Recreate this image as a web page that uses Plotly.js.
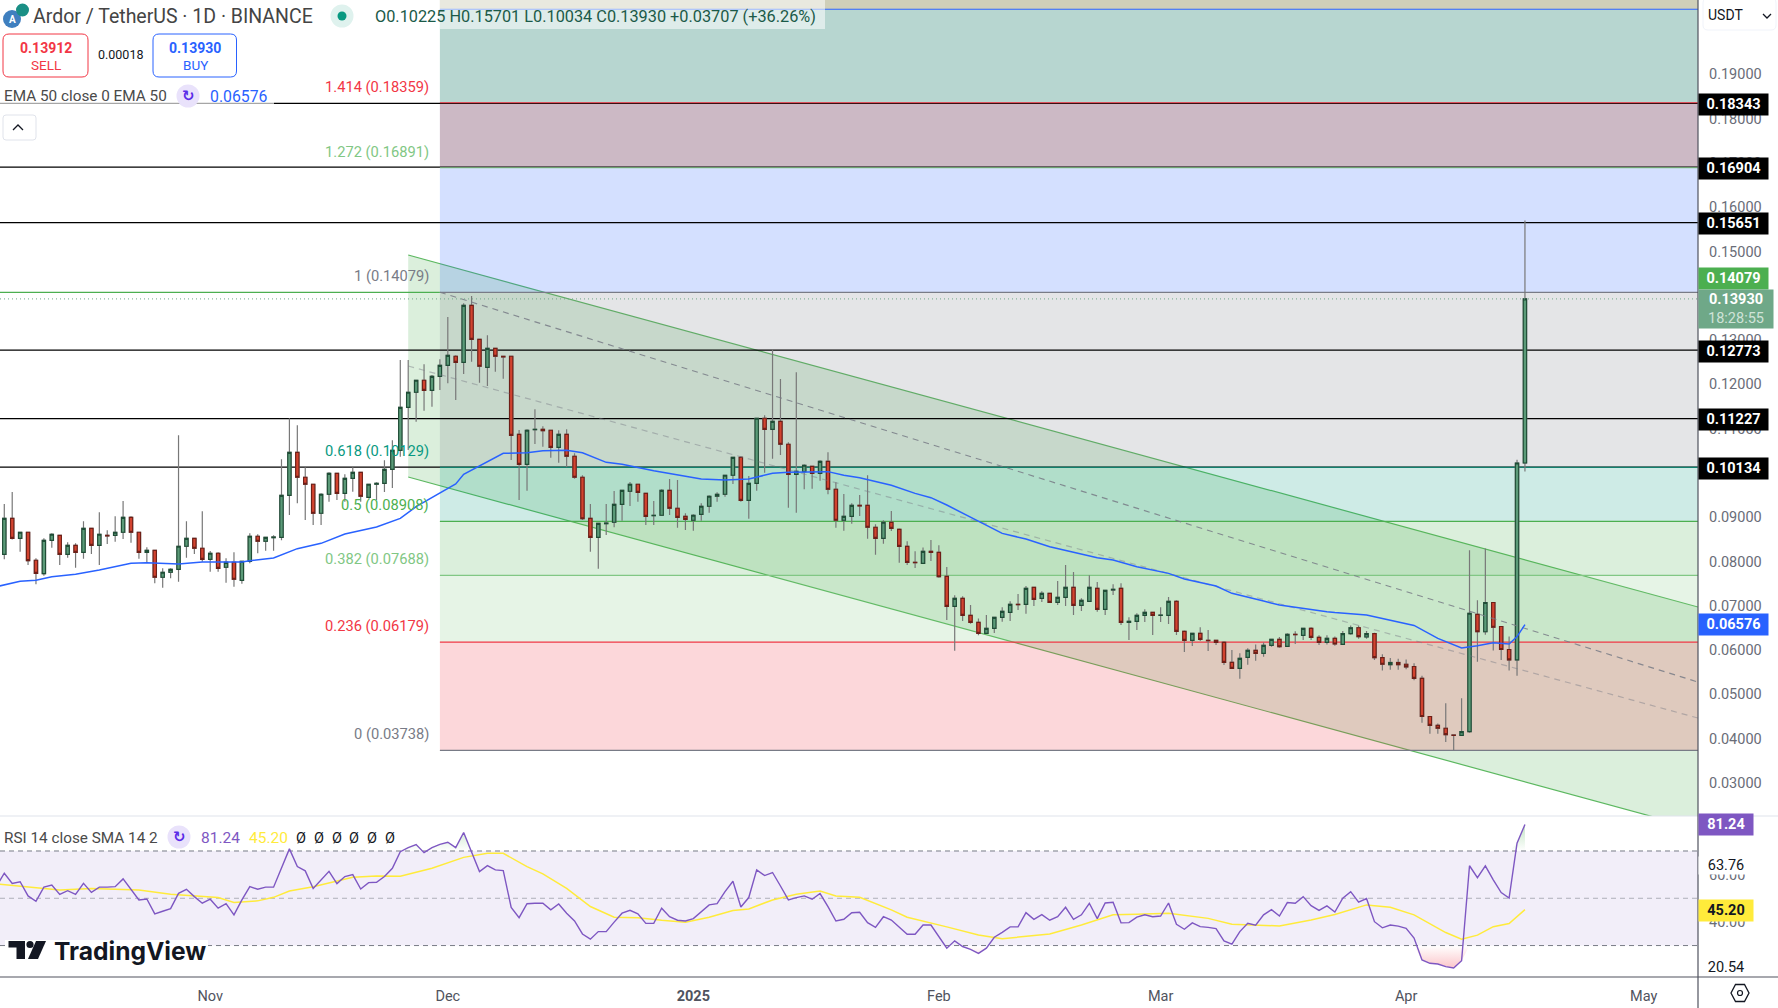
<!DOCTYPE html>
<html><head><meta charset="utf-8">
<script src="https://cdn.plot.ly/plotly-3.0.1.min.js"></script>
<style>html,body{margin:0;padding:0;background:#fff;overflow:hidden}#c{width:1778px;height:1008px}</style>
</head><body><div id="c"></div>
<script>
const firstDate = '2024-10-06';
const opens = [
.08163,.08976,.08524,.0866,.08028,.07727,.08479,.08592,.08163,.08366,
.08208,.0875,.08366,.08592,.08592,.0866,.08998,.0866,.08208,.08253,
.07644,.07757,.07824,.08344,.08524,.08299,.0805,.08186,.0787,.07982,
.07576,.08005,.0857,.08457,.08539,.08547,.09495,.10466,.09902,.09744,
.09089,.09518,.09992,.0954,.09879,.10014,.0945,.09744,.09766,.10082,
.10511,.11482,.11821,.12092,.11866,.12182,.1243,.12634,.12498,.13785,
.13017,.12385,.12814,.12634,.12634,.10872,.10195,.10978,.10985,.10963,
.10579,.10872,.10376,.09902,.08976,.08547,.08856,.08886,.09292,.09586,
.09744,.0954,.09036,.09044,.09608,.09202,.09021,.08931,.09066,.09247,
.09473,.09518,.09947,.10353,.09382,.09766,.11234,.10985,.11166,.10647,
.09969,.1003,.1015,.09992,.10263,.09631,.08931,.09021,.09269,.09269,
.08773,.08524,.08885,.08727,.08343,.07982,.07959,.0823,.08208,.07666,
.06988,.07169,.06785,.06627,.06379,.06492,.0674,.06853,.07033,.07033,
.07417,.07169,.07282,.07079,.07192,.07417,.07011,.07101,.07395,.06921,
.07357,.07395,.06627,.0665,.06785,.06853,.06785,.06785,.07101,.06424,
.06221,.06379,.06221,.06221,.06175,.05724,.05588,.05837,.05995,.05927,
.06108,.06243,.06085,.06356,.06334,.06492,.06288,.06175,.06265,.06131,
.06373,.06507,.06298,.06373,.0583,.05672,.05722,.0568,.0563,.05363,
.04502,.04302,.04235,.04085,.04076,.0416,.06808,.06415,.07075,.06532,
.06014,.0578,.10225];
const highs = [
.09299,.0957,.0866,.0866,.08073,.08524,.08637,.086,.08434,.08411,
.08908,.0875,.09111,.08705,.09021,.09367,.09021,.0866,.08321,.08253,
.07847,.07847,.1085,.08908,.08524,.09134,.08238,.08208,.08073,.08208,
.08005,.08637,.08615,.08547,.08592,.10308,.11234,.11076,.10127,.09744,
.0954,.10014,.09992,.09969,.10127,.10014,.09744,.09789,.10285,.10737,
.12551,.12551,.12099,.12453,.12212,.12566,.13522,.12656,.1383,.13996,
.13017,.13108,.12814,.12634,.12634,.1097,.10985,.11437,.11053,.10963,
.10963,.10985,.10443,.09947,.09299,.08863,.09299,.09593,.09616,.09796,
.09744,.0954,.09367,.09631,.09864,.09841,.09089,.09066,.09315,.09495,
.09563,.09947,.10368,.10376,.09932,.11234,.11301,.12792,.12122,.10692,
.12272,.10195,.1015,.10285,.10466,.09789,.09525,.09315,.09503,.09947,
.0884,.08931,.09141,.08749,.08456,.0823,.0832,.08486,.08366,.07876,
.07237,.07214,.07018,.06717,.06793,.0674,.06966,.07101,.07267,.07447,
.07417,.07327,.07282,.0756,.07922,.07763,.07169,.07688,.07538,.0735,
.07485,.07508,.0674,.0683,.06921,.06853,.06966,.07199,.07124,.06446,
.06379,.06514,.06454,.06228,.06198,.06002,.05927,.0604,.0613,.06175,
.06243,.06296,.06379,.06424,.06492,.06514,.06334,.06334,.06306,.06432,
.06557,.06557,.06432,.0639,.05905,.05822,.05805,.05789,.05705,.05421,
.04502,.04343,.04803,.04093,.04912,.08253,.07125,.08294,.07075,.0654,
.06306,.10299,.15701];
const lows = [
.0805,.085,.08223,.07922,.07486,.07681,.08314,.07922,.08088,.07862,
.08065,.08171,.07922,.08396,.08449,.08509,.08427,.08065,.07982,.07508,
.07411,.07621,.07546,.08088,.08171,.07998,.07772,.07772,.07523,.07433,
.07501,.0796,.08186,.08246,.08246,.08479,.09051,.09315,.08938,.08825,
.08825,.09352,.0939,.09352,.09578,.09352,.09427,.0939,.0957,.09661,
.10368,.10519,.11158,.11407,.11497,.11873,.12024,.11648,.12235,.12513,
.12039,.11964,.12287,.12129,.10293,.0939,.09601,.10654,.10594,.10346,
.10233,.10127,.09872,.08938,.08223,.07839,.086,.08773,.08923,.09254,
.09352,.08825,.08825,.09029,.09051,.08765,.08712,.08697,.08923,.09104,
.09352,.09465,.09751,.09352,.08968,.09601,.10007,.10323,.10406,.09217,
.09104,.09631,.09646,.09826,.09518,.08765,.08697,.08856,.09029,.08517,
.08156,.08404,.08689,.07974,.07922,.07854,.07944,.08012,.07636,.0668,
.05987,.06657,.06597,.06334,.0637,.06386,.06642,.06657,.06906,.06823,
.06996,.07086,.07071,.07018,.06996,.06793,.06883,.07086,.06868,.06793,
.07244,.06567,.06228,.06454,.06635,.06341,.06635,.06589,.06341,.05957,
.06093,.06206,.0598,.06115,.05664,.05581,.05355,.05671,.05762,.05852,
.06078,.06055,.0607,.06138,.06228,.06228,.06115,.0613,.06098,.06114,
.06348,.06256,.06256,.0578,.05538,.05555,.05555,.05571,.05321,.0436,
.0411,.0411,.03926,.03738,.04068,.04135,.05738,.06348,.05989,.0578,
.05538,.05421,.10034];
const closes = [
.08976,.08524,.0866,.0802,.07734,.08479,.08615,.08163,.08366,.08208,
.0875,.08366,.08615,.08577,.0866,.08998,.0866,.08208,.08253,.07644,
.07757,.07824,.08344,.08524,.08299,.0805,.08186,.07847,.07982,.07599,
.08005,.0857,.08457,.08547,.08555,.09495,.10466,.09902,.09744,.09089,
.09518,.09992,.0954,.09879,.10014,.09473,.09744,.09766,.10082,.10511,
.11482,.11821,.12092,.11866,.12182,.1243,.12656,.12498,.13785,.13017,
.12408,.12814,.12634,.12618,.1085,.10195,.10963,.10985,.10955,.10579,
.10872,.10376,.09902,.08968,.08547,.08863,.0887,.09292,.09608,.09744,
.09563,.09021,.09044,.09608,.09202,.08998,.08953,.09044,.09247,.09473,
.09518,.09947,.10353,.09382,.09766,.11234,.10985,.11166,.10647,.09969,
.10037,.10173,.09992,.10263,.09631,.08931,.09021,.09269,.09254,.08773,
.08524,.08886,.08749,.08343,.07982,.07974,.0823,.08208,.07658,.06988,
.07169,.06785,.06627,.06379,.06492,.0674,.06875,.07033,.07026,.07395,
.07146,.07282,.07079,.07192,.07417,.07011,.07124,.07417,.06921,.0735,
.07372,.06627,.0665,.06785,.06853,.06785,.06793,.07101,.06424,.06221,
.06379,.06243,.06213,.06175,.05724,.05588,.05814,.05995,.05927,.06108,
.06243,.06078,.06356,.06349,.06492,.06288,.06175,.06266,.06139,.06373,
.06507,.06306,.06373,.0583,.0568,.05722,.05672,.05622,.05363,.04502,
.04302,.04235,.04093,.04076,.0416,.06833,.06415,.07075,.06515,.06014,
.0578,.10225,.1393];

const emaDays = [-1,2,4,6,9,12,16,18,22,25,30,31,34,37,40,43,47,50,52,55,57,58,61,63,66,68,71,73,76,78,82,85,88,91,94,97,99,104,106,108,112,115,117,119,123,126,129,132,135,138,140,143,147,149,153,155,159,161,167,168,172,178,181,184,186,188,190,191,192];
const emaValues = [.07433,.07553,.07576,.07659,.07712,.07809,.0796,.07975,.07945,.0799,.0799,.0802,.0808,.08291,.08411,.08622,.0878,.08976,.09239,.0954,.09751,.09969,.10255,.10443,.10458,.10504,.10511,.10458,.1024,.10195,.10052,.09962,.09864,.09841,.09864,.09992,.10014,.1003,.09947,.09894,.09721,.0954,.09442,.09276,.08915,.08636,.08509,.08335,.08208,.08087,.08034,.07884,.07733,.07605,.07447,.07282,.07109,.07018,.06868,.06849,.06791,.06557,.06265,.06048,.06098,.06164,.06139,.06306,.06576];

const rsiLeadValue = 55.0;
const rsiValues = [
60.6,56.3,57.0,51.0,48.7,54.7,55.6,51.6,53.2,51.6,
56.3,52.5,54.7,54.7,54.9,58.2,53.8,49.3,49.7,43.4,
44.5,45.6,52.1,53.8,50.7,47.9,49.6,45.8,47.7,43.0,
49.3,54.9,53.8,54.7,54.7,62.7,70.9,63.4,61.6,54.1,
57.8,61.4,56.2,59.2,60.0,53.9,56.6,56.8,59.2,62.7,
69.7,71.4,72.7,69.3,71.4,72.8,73.7,71.4,77.8,69.7,
61.3,63.8,62.0,61.7,46.1,41.8,47.7,47.9,47.9,45.1,
47.6,43.7,40.4,34.9,32.7,35.9,35.9,39.9,43.7,44.9,
43.4,39.4,39.4,45.8,42.2,40.7,40.4,41.4,44.4,47.2,
47.7,52.8,57.2,46.3,50.3,62.0,59.6,60.9,55.2,49.3,
50.3,51.0,49.6,52.0,46.5,40.4,41.1,43.9,44.1,39.7,
37.7,42.2,40.8,37.7,34.8,34.8,38.7,38.7,33.8,28.9,
32.0,29.6,28.4,26.7,28.9,33.5,35.6,37.9,37.9,43.9,
41.1,43.1,40.7,42.2,46.2,41.1,43.0,47.9,41.4,48.0,
48.3,39.6,39.7,42.0,43.0,42.2,42.5,48.0,39.0,36.9,
39.6,38.0,37.7,37.2,32.0,30.6,35.9,39.4,38.6,43.0,
45.2,42.5,48.2,47.9,50.7,46.9,44.9,46.8,44.2,50.0,
52.8,48.4,49.9,40.1,37.5,38.7,38.2,37.3,33.2,23.9,
22.5,22.2,21.1,20.54,23.6,63.76,58.7,63.7,57.8,52.4,
50.1,73.3,81.24];
const smaDays = [-1,2,4,7,11,17,21,24,27,29,32,34,36,39,44,47,50,54,58,61,63,66,68,71,74,77,80,83,86,89,92,94,97,100,103,105,108,112,114,119,123,126,129,132,136,140,143,147,152,155,161,165,168,172,175,178,182,184,186,188,190,192];
const smaValues = [56.1,55.2,54.5,53.5,54.1,53.5,51.7,51.0,50.3,48.2,48.9,50.4,53.1,54.9,58.9,59.4,59.3,62.7,67.3,69.0,69.0,63.4,60.3,54.2,46.5,42.0,41.8,40.7,39.9,42.0,44.8,45.5,49.3,51.7,53.1,51.0,50.4,45.1,42.0,37.9,34.5,32.9,33.8,34.9,38.7,43.0,43.2,43.7,41.5,39.0,38.3,40.8,43.1,47.2,46.2,43.0,35.5,32.7,34.4,38.0,39.3,45.2];

const fibRatios = [0,0.236,0.382,0.5,0.618,1,1.272,1.414,1.618];
const fibPrices = [.03738,.06179,.07688,.08908,.10129,.14079,.16891,.18359,.2047];
const fibLabels = ['0 (0.03738)','0.236 (0.06179)','0.382 (0.07688)','0.5 (0.08908)','0.618 (0.10129)','1 (0.14079)','1.272 (0.16891)','1.414 (0.18359)'];
const blackLevels = [.18343,.16904,.15651,.12773,.11227,.10134];
const channelDates = ['2024-11-26','2025-05-07 20:24'];
const channelUpper = [.14921,.06973];
const channelLower = [.09909,.01961];
const channelMid = [.12415,.04467];
const regressionDates = ['2024-11-30','2025-05-07 20:24'];
const regressionLine = [.14079,.0528];
const xTickDates = ['2024-11-01','2024-12-01','2025-01-01','2025-02-01','2025-03-01','2025-04-01','2025-05-01'];
const xTickText = ['Nov','Dec','<b>2025</b>','Feb','Mar','Apr','May'];
const priceTicks = [.03,.04,.05,.06,.07,.08,.09,.1,.11,.12,.13,.14,.15,.16,.17,.18,.19];
const rsiLevels = [70,50,30];

/* styles */
const W=1778,H=1008,PW=1698,PH=977,PANE=816;
const px=x=>x/PW, py=y=>1-y/PH;
const xStart='2024-10-05 11:00', xEnd='2025-05-07 20:24', fibStart='2024-11-30';
const fibFills=['rgba(242,54,69,.2)','rgba(129,199,132,.2)','rgba(76,175,80,.2)','rgba(8,153,129,.2)','rgba(120,123,134,.2)','rgba(41,98,255,.2)','#ccb9c5','#b7d6d0','#cfcfb9'];
const fibLines=['#787b86','#f23645','#81c784','#4caf50','#089981','#787b86','#81c784','#f23645','#2962ff'];
const fibText=['#787b86','#f23645','#81c784','#4caf50','#089981','#787b86','#81c784','#f23645'];
const F='Roboto, sans-serif';

const dayDate=i=>{const d=new Date(firstDate+'T00:00:00Z');d.setUTCDate(d.getUTCDate()+i);return d.toISOString().slice(0,10);};
const dates=opens.map((_,i)=>dayDate(i));
const us=s=>s.replace(' ','_');

const shapes=[];
// trend channel sits under the fib bands
shapes.push({type:'path',layer:'below',xref:'x',yref:'y',fillcolor:'rgba(76,175,80,.2)',line:{width:0},
  path:`M${us(channelDates[0])},${channelUpper[0]}L${us(channelDates[1])},${channelUpper[1]}L${us(channelDates[1])},${channelLower[1]}L${us(channelDates[0])},${channelLower[0]}Z`});
[channelUpper,channelLower].forEach(a=>shapes.push({type:'line',layer:'below',xref:'x',yref:'y',x0:channelDates[0],x1:channelDates[1],y0:a[0],y1:a[1],line:{color:'#5cb860',width:1.2}}));
// fib bands
fibPrices.forEach((p,i)=>{
  const top=i<fibPrices.length-1?fibPrices[i+1]:0.20679;
  shapes.push({type:'rect',layer:'below',xref:'x',yref:'y',x0:fibStart,x1:xEnd,y0:p,y1:top,fillcolor:fibFills[i],line:{width:0}});
});
// black levels
blackLevels.forEach(p=>shapes.push({type:'line',layer:'below',xref:'x',yref:'y',x0:xStart,x1:xEnd,y0:p,y1:p,line:{color:'#000',width:1.3}}));
// green & dotted price lines
shapes.push({type:'line',layer:'below',xref:'x',yref:'y',x0:xStart,x1:fibStart,y0:fibPrices[5],y1:fibPrices[5],line:{color:'#4caf50',width:1.2}});
shapes.push({type:'line',layer:'above',xref:'x',yref:'y',x0:xStart,x1:xEnd,y0:closes[closes.length-1],y1:closes[closes.length-1],line:{color:'#6fa888',width:1,dash:'1px,3px'}});
// fib lines
fibPrices.forEach((p,i)=>shapes.push({type:'line',layer:'below',xref:'x',yref:'y',x0:fibStart,x1:xEnd,y0:p,y1:p,line:{color:fibLines[i],width:1.2}}));
// RSI band
shapes.push({type:'rect',layer:'below',xref:'paper',yref:'y2',x0:0,x1:1,y0:30,y1:70,fillcolor:'rgba(126,87,194,0.1)',line:{width:0}});
rsiLevels.forEach((v,i)=>shapes.push({type:'line',layer:'below',xref:'paper',yref:'y2',x0:0,x1:1,y0:v,y1:v,line:{color:i===1?'rgba(120,123,134,.55)':'#787b86',width:1,dash:'5px,4px'}}));
// panes/axis frame
shapes.push({type:'line',layer:'above',xref:'paper',yref:'paper',x0:px(0),x1:px(W),y0:py(PANE),y1:py(PANE),line:{color:'#e0e3eb',width:1.2}});
shapes.push({type:'line',layer:'above',xref:'paper',yref:'paper',x0:px(0),x1:px(W),y0:py(PH),y1:py(PH),line:{color:'#50535e',width:1.2}});
shapes.push({type:'line',layer:'above',xref:'paper',yref:'paper',x0:1,x1:1,y0:py(0),y1:py(H),line:{color:'#50535e',width:1.2}});
const rect=(x0,y0,x1,y1,fill,line,lw)=>shapes.push({type:'rect',layer:'above',xref:'paper',yref:'paper',x0:px(x0),x1:px(x1),y0:py(y0),y1:py(y1),fillcolor:fill,line:{color:line||'rgba(0,0,0,0)',width:line?(lw||1):0}});
const round=(x0,y0,x1,y1,r,fill,line)=>{const X=px,Y=py;shapes.push({type:'path',layer:'above',xref:'paper',yref:'paper',fillcolor:fill,line:{color:line,width:1},path:`M${X(x0+r)},${Y(y0)}L${X(x1-r)},${Y(y0)}Q${X(x1)},${Y(y0)} ${X(x1)},${Y(y0+r)}L${X(x1)},${Y(y1-r)}Q${X(x1)},${Y(y1)} ${X(x1-r)},${Y(y1)}L${X(x0+r)},${Y(y1)}Q${X(x0)},${Y(y1)} ${X(x0)},${Y(y1-r)}L${X(x0)},${Y(y0+r)}Q${X(x0)},${Y(y0)} ${X(x0+r)},${Y(y0)}Z`});};
const circ=(cx,cy,r,fill)=>shapes.push({type:'circle',layer:'above',xref:'paper',yref:'paper',x0:px(cx-r),x1:px(cx+r),y0:py(cy-r),y1:py(cy+r),fillcolor:fill,line:{width:0}});
const poly=(pts,fill,line)=>shapes.push({type:'path',layer:'above',xref:'paper',yref:'paper',fillcolor:fill,line:{color:line||'rgba(0,0,0,0)',width:line?1.3:0},path:'M'+pts.map(p=>px(p[0])+','+py(p[1])).join('L')+(fill==='none'?'':'Z')});
// header panel
rect(440,0,825,29,'rgba(255,255,255,.55)');
rect(0,85,274,108,'rgba(255,255,255,.65)');
round(3,34,88,77,6,'#fff','#f23645');
round(153,34,236.5,77,6,'#fff','#2962ff');
round(3,115,36,140,3,'#fff','#e0e3eb');
poly([[13,130],[18,125],[23,130]],'none','#131722');
round(1703,-2,1776,30,5,'#fff','#f0f3fa');
poly([[1763,14],[1767,18],[1771,14]],'none','#131722');
circ(12,19,9,'#3f7fbf'); circ(22.5,10,6.5,'#1a8f85');
circ(342,16,11.5,'#dff2ee'); circ(342,16,4.5,'#089981');
circ(188,96,11.5,'#e9e2fb'); circ(179,837,11.5,'#e9e2fb');
// logo
rect(5,940,208,966,'#fff');
poly([[8.5,941],[25,941],[25,959],[16.5,959],[16.5,947.5],[8.5,947.5]],'#131722');
circ(30,944.5,3.6,'#131722');
poly([[36,941],[46,941],[38,959],[28,959]],'#131722');
// settings icon
poly([[1731,993],[1735.5,984.5],[1744.5,984.5],[1749,993],[1744.5,1001.5],[1735.5,1001.5]],'none','#131722');
shapes[shapes.length-1].path+='Z';
shapes.push({type:'circle',layer:'above',xref:'paper',yref:'paper',x0:px(1737.5),x1:px(1742.5),y0:py(990.5),y1:py(995.5),line:{color:'#131722',width:1.2}});

/* annotations */
const ann=[];
const txt=(x,y,text,size,color,o)=>ann.push(Object.assign({xref:'paper',yref:'paper',x:px(x),y:py(y),xanchor:'left',yanchor:'middle',text,showarrow:false,font:{family:F,size,color},borderpad:0},o||{}));
txt(32,16,'Ardor / TetherUS · 1D · BINANCE',19.5,'#444');
txt(374,16,'O0.10225 H0.15701 L0.10034 C0.13930 +0.03707 (+36.26%)',16.3,'#1b5a48');
txt(45.5,48,'<b>0.13912</b>',14,'#f23645',{xanchor:'center'});
txt(45.5,65,'SELL',13.5,'#f23645',{xanchor:'center'});
txt(120,54.5,'0.00018',12.5,'#131722',{xanchor:'center'});
txt(195,48,'<b>0.13930</b>',14,'#2962ff',{xanchor:'center'});
txt(195,65,'BUY',13.5,'#2962ff',{xanchor:'center'});
txt(3,96,'EMA 50 close 0 EMA 50',15.3,'#4a4a4a');
txt(188,96,'<b>↻</b>',15,'#5b2de8',{xanchor:'center',font:{family:'DejaVu Sans',size:15,color:'#5b2de8'}});
txt(209,96,'0.06576',15.8,'#2962ff');
txt(1707,15,'USDT',14,'#131722');
txt(3,838,'RSI 14 close SMA 14 2',15.3,'#4a4a4a');
txt(179,837,'<b>↻</b>',15,'#5b2de8',{xanchor:'center',font:{family:'DejaVu Sans',size:15,color:'#5b2de8'}});
txt(200,838,'81.24',15.5,'#7e57c2');
txt(248,838,'45.20',15.5,'#ffeb3b');
for(let i=0;i<6;i++) txt(301+i*17.8,838,'Ø',14.5,'#131722',{xanchor:'center'});
txt(53,951,'<b>TradingView</b>',24.6,'#131722',{font:{family:'Inter, sans-serif',size:24.6,color:'#131722'}});
txt(12.5,19.5,'<b>A</b>',10,'#fff',{xanchor:'center'});
// fib labels
fibLabels.forEach((t,i)=>ann.push({xref:'x',yref:'y',x:fibStart,y:fibPrices[i],xanchor:'right',yanchor:'middle',xshift:-9,yshift:16,text:t,showarrow:false,font:{family:F,size:14.7,color:fibText[i]}}));
// price tags
const tag=(p,text,bg,col,w,h,ys)=>ann.push({xref:'paper',yref:'y',x:1,y:p,xanchor:'left',yanchor:'middle',yshift:ys||0,text,showarrow:false,width:w,height:h,bgcolor:bg,borderpad:0,align:'center',valign:'middle',font:{family:F,size:14.5,color:col}});
blackLevels.forEach(p=>tag(p,'<b>'+p.toFixed(5)+'</b>','#000','#fff',69,21,-1));
tag(fibPrices[5],'<b>0.14079</b>','#4caf50','#fff',69,21,14);
tag(closes[closes.length-1],'<b>0.13930</b><br><span style="color:#cfe3d8">18:28:55</span>','#6fa888','#fff',74,38,-10);
tag(emaValues[emaValues.length-1],'<b>0.06576</b>','#2962ff','#fff',69,21);
const rtag=(v,text,bg,col,w,h,ys)=>ann.push({xref:'paper',yref:'y2',x:1,y:v,xanchor:'left',yanchor:'middle',yshift:ys||0,text,showarrow:false,width:w,height:h,bgcolor:bg,borderpad:0,align:'center',valign:'middle',font:{family:F,size:14.5,color:col}});
rtag(63.76,'63.76','#fff','#131722',54,17);
rtag(20.54,'20.54','rgba(255,255,255,0)','#131722',54,17);
rtag(81.24,'<b>81.24</b>','#7e57c2','#fff',54,21);
rtag(45.2,'<b>45.20</b>','#ffeb3b','#131722',54,21,-1);

/* traces */
const rsiDates=[dayDate(-1)].concat(dates), rsiAll=[rsiLeadValue].concat(rsiValues);
const traces=[
 {type:'scatter',mode:'lines',x:channelDates,y:channelMid,line:{color:'rgba(120,123,134,.45)',width:1.2,dash:'6px,5px'},hoverinfo:'skip',xaxis:'x',yaxis:'y'},
 {type:'scatter',mode:'lines',x:regressionDates,y:regressionLine,line:{color:'rgba(120,123,134,.85)',width:1.1,dash:'6px,5px'},hoverinfo:'skip',xaxis:'x',yaxis:'y'},
 {type:'candlestick',x:dates,open:opens,high:highs,low:lows,close:closes,xaxis:'x',yaxis:'y',whiskerwidth:0,
  increasing:{line:{color:'#787878',width:1.2},fillcolor:'rgba(0,0,0,0)'},decreasing:{line:{color:'#787878',width:1.2},fillcolor:'rgba(0,0,0,0)'},hoverinfo:'skip'},
 {type:'candlestick',x:dates,open:opens,close:closes,high:opens.map((o,i)=>Math.max(o,closes[i])),low:opens.map((o,i)=>Math.min(o,closes[i])),xaxis:'x',yaxis:'y',whiskerwidth:0,
  increasing:{line:{color:'#1f4d36',width:1.1},fillcolor:'#5b9a78'},decreasing:{line:{color:'#6e1f17',width:1.1},fillcolor:'#d2432f'},hoverinfo:'skip'},
 {type:'scatter',mode:'lines',x:emaDays.map(dayDate),y:emaValues,line:{color:'#2962ff',width:1.5},hoverinfo:'skip',xaxis:'x',yaxis:'y'},
 // RSI fills
 {type:'scatter',mode:'lines',x:rsiDates,y:rsiDates.map(()=>70),line:{width:0},hoverinfo:'skip',xaxis:'x',yaxis:'y2'},
 {type:'scatter',mode:'lines',x:rsiDates,y:rsiAll.map(r=>Math.max(r,70)),line:{width:0},fill:'tonexty',fillgradient:{type:'vertical',start:80,stop:70,colorscale:[[0,'rgba(76,175,80,0.3)'],[1,'rgba(76,175,80,0)']]},hoverinfo:'skip',xaxis:'x',yaxis:'y2'},
 {type:'scatter',mode:'lines',x:rsiDates,y:rsiDates.map(()=>30),line:{width:0},hoverinfo:'skip',xaxis:'x',yaxis:'y2'},
 {type:'scatter',mode:'lines',x:rsiDates,y:rsiAll.map(r=>Math.min(r,30)),line:{width:0},fill:'tonexty',fillgradient:{type:'vertical',start:20,stop:30,colorscale:[[0,'rgba(242,54,69,0.3)'],[1,'rgba(242,54,69,0)']]},hoverinfo:'skip',xaxis:'x',yaxis:'y2'},
 {type:'scatter',mode:'lines',x:smaDays.map(dayDate),y:smaValues,line:{color:'#ffeb3b',width:1.5},hoverinfo:'skip',xaxis:'x',yaxis:'y2'},
 {type:'scatter',mode:'lines',x:rsiDates,y:rsiAll,line:{color:'#7e57c2',width:1.4},hoverinfo:'skip',xaxis:'x',yaxis:'y2'}
];

const split=(PH-PANE)/PH;
const layout={
 width:W,height:H,margin:{l:0,r:W-PW,t:0,b:H-PH,pad:0},paper_bgcolor:'#fff',plot_bgcolor:'rgba(0,0,0,0)',showlegend:false,boxmode:'overlay',boxgap:0.4,
 font:{family:F},
 xaxis:{type:'date',range:[xStart,xEnd],anchor:'y2',rangeslider:{visible:false},showgrid:false,zeroline:false,showline:false,ticks:'',tickmode:'array',tickvals:xTickDates,ticktext:xTickText,tickfont:{family:F,size:14.5,color:'#50535e'},ticklabelstandoff:8,fixedrange:true},
 yaxis:{domain:[split,1],range:[0.02255,0.20679],side:'right',anchor:'x',showgrid:false,zeroline:false,showline:false,ticks:'',tickmode:'array',tickvals:priceTicks,tickformat:'.5f',tickfont:{family:F,size:14.5,color:'#6a6d78'},ticklabelstandoff:10,fixedrange:true},
 yaxis2:{domain:[0,split],range:[16.7,84.8],side:'right',anchor:'x',showgrid:false,zeroline:false,showline:false,ticks:'',tickmode:'array',tickvals:[40,60],ticktext:['40.00','60.00'],tickfont:{family:F,size:14.5,color:'#6a6d78'},ticklabelstandoff:10,fixedrange:true},
 shapes,annotations:ann
};
Plotly.newPlot('c',traces,layout,{displayModeBar:false,staticPlot:true});
</script></body></html>
